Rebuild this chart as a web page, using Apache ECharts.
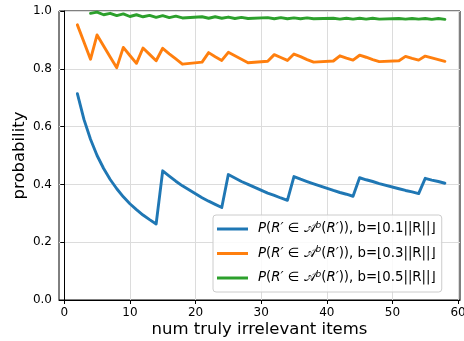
<!DOCTYPE html>
<html>
<head>
<meta charset="utf-8">
<script src="https://cdn.jsdelivr.net/npm/echarts@6/dist/echarts.min.js"></script>
<style>
  html, body { margin: 0; padding: 0; background: #fff; }
  #chart { width: 464px; height: 341px; }
</style>
</head>
<body>
<div id="chart"></div>
<script>
// number of truly irrelevant items (x)
var nums = [2, 3, 4, 5, 6, 7, 8, 9, 10, 11, 12, 13, 14, 15, 16, 17, 18,
  21, 22, 23, 24, 25, 26, 27, 28,
  31, 32, 33, 34, 35, 36, 37, 38,
  41, 42, 43, 44, 45, 46, 47, 48,
  51, 52, 53, 54, 55, 56, 57, 58];

// b = 0.1 |R|
var probB01 = [0.714, 0.625, 0.556, 0.500, 0.455, 0.417, 0.385, 0.357, 0.333, 0.313, 0.294, 0.278, 0.263, 0.447, 0.429, 0.411, 0.395,
  0.354, 0.342, 0.331, 0.320, 0.434, 0.422, 0.410, 0.400,
  0.370, 0.362, 0.353, 0.345, 0.427, 0.418, 0.410, 0.402,
  0.379, 0.372, 0.366, 0.359, 0.423, 0.416, 0.410, 0.403,
  0.385, 0.379, 0.374, 0.368, 0.421, 0.415, 0.410, 0.404];

// b = 0.3 |R|
var probB03 = [0.952, 0.893, 0.833, 0.917, 0.879, 0.841, 0.804, 0.874, 0.846, 0.819, 0.872, 0.850, 0.828, 0.871, 0.852, 0.834, 0.816,
  0.823, 0.856, 0.842, 0.829, 0.857, 0.845, 0.833, 0.821,
  0.826, 0.849, 0.839, 0.829, 0.851, 0.842, 0.832, 0.823,
  0.827, 0.845, 0.837, 0.830, 0.847, 0.840, 0.832, 0.825,
  0.828, 0.843, 0.836, 0.830, 0.844, 0.838, 0.832, 0.826];

// b = 0.5 |R| (no value for the first two)
var probB05 = [null, null, 0.992, 0.996, 0.987, 0.992, 0.984, 0.990, 0.981, 0.987, 0.980, 0.985, 0.978, 0.984, 0.977, 0.982, 0.976,
  0.980, 0.975, 0.980, 0.975, 0.979, 0.974, 0.978, 0.974,
  0.977, 0.973, 0.977, 0.973, 0.976, 0.973, 0.976, 0.973,
  0.975, 0.972, 0.975, 0.972, 0.975, 0.972, 0.975, 0.972,
  0.974, 0.972, 0.974, 0.972, 0.974, 0.971, 0.974, 0.971];

var bFractions = ['0.1', '0.3', '0.5'];
var xTicks = [0, 10, 20, 30, 40, 50, 60];

var colors = ['#1f77b4', '#ff7f0e', '#2ca02c'];
var FONT = 'DejaVu Sans';

function pairs(ys) {
  return nums.map(function (x, i) { return [x, ys[i]]; });
}

function legendName(frac) {
  return 'b' + frac;
}

var seriesVals = [probB01, probB03, probB05];
var series = seriesVals.map(function (ys, i) {
  return {
    name: legendName(bFractions[i]),
    type: 'line',
    data: pairs(ys),
    showSymbol: false,
    symbol: 'none',
    connectNulls: false,
    lineStyle: { width: 2.9, color: colors[i], cap: 'round', join: 'round' },
    itemStyle: { color: colors[i] },
    animation: false
  };
});

var chart = echarts.init(document.getElementById('chart'), null, { renderer: 'canvas' });

var option = {
  backgroundColor: '#fff',
  animation: false,
  textStyle: { fontFamily: FONT },
  grid: {
    left: 59, right: 4, top: 11, bottom: 41,
    outerBoundsMode: 'none',
    containLabel: false,
    show: true, borderColor: '#000', borderWidth: 1, backgroundColor: 'transparent'
  },
  xAxis: {
    type: 'value',
    min: -0.8,
    max: 60.3,
    name: 'num truly irrelevant items',
    nameLocation: 'middle',
    nameGap: 21,
    nameMoveOverlap: false,
    nameTextStyle: { fontFamily: FONT, fontSize: 16.5, color: '#000', verticalAlign: 'top' },
    axisLine: { show: true, lineStyle: { color: '#000', width: 1 } },
    axisTick: { show: true, length: 4, customValues: xTicks, lineStyle: { color: '#000' } },
    axisLabel: { customValues: xTicks, margin: 7, fontFamily: FONT, fontSize: 12, color: '#000' },
    splitLine: { show: true, lineStyle: { color: '#dcdcdc', width: 1 } }
  },
  yAxis: {
    type: 'value',
    min: 0,
    max: 1,
    interval: 0.2,
    name: 'probability',
    nameLocation: 'middle',
    nameGap: 31,
    nameMoveOverlap: false,
    nameTextStyle: { fontFamily: FONT, fontSize: 16.5, color: '#000' },
    axisLine: { show: true, lineStyle: { color: '#000', width: 1 } },
    axisTick: { show: true, length: 4, lineStyle: { color: '#000' } },
    axisLabel: {
      margin: 7, fontFamily: FONT, fontSize: 12, color: '#000',
      formatter: function (v) { return v.toFixed(1); }
    },
    splitLine: { show: true, lineStyle: { color: '#dcdcdc', width: 1 } }
  },
  legend: {
    orient: 'vertical',
    left: 213,
    top: 215,
    padding: [6, 6, 6, 4],
    itemGap: 8.5,
    itemWidth: 31,
    itemHeight: 3,
    icon: 'rect',
    backgroundColor: 'rgba(255,255,255,0.85)',
    borderColor: '#cccccc',
    borderWidth: 1,
    borderRadius: 3,
    data: series.map(function (s) { return s.name; }),
    formatter: function (name) {
      var frac = name.slice(1);
      return '{i|P}{n|(}{i|R′}{n| ∈ }{c|𝒜}{s|b}{n|(}{i|R′}{n|)), b=⌊' + frac + '||R||⌋}';
    },
    textStyle: {
      fontFamily: FONT,
      fontSize: 13.3,
      color: '#000',
      lineHeight: 16,
      padding: [0, 0, 0, 5],
      rich: {
        i: { fontFamily: FONT, fontStyle: 'italic', fontSize: 13.3, lineHeight: 16 },
        n: { fontFamily: FONT, fontSize: 13.3, lineHeight: 16 },
        c: { fontFamily: FONT, fontSize: 13.3, lineHeight: 16 },
        s: { fontFamily: FONT, fontStyle: 'italic', fontSize: 9, lineHeight: 16, verticalAlign: 'top' }
      }
    }
  },
  series: series
};

chart.setOption(option);
</script>
</body>
</html>
